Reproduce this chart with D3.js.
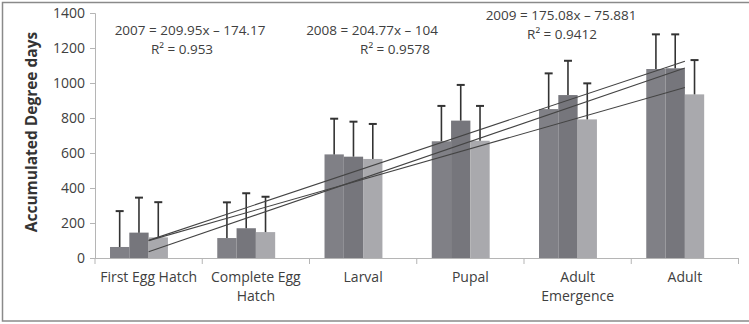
<!DOCTYPE html>
<html><head><meta charset="utf-8">
<script src="https://cdn.jsdelivr.net/npm/d3@7"></script>
<style>body{margin:0;background:#fff}text{font-family:"Open Sans",sans-serif}</style>
</head><body><svg id="c" width="749" height="324"></svg>
<script>
const categories = ["First Egg Hatch","Complete Egg Hatch","Larval","Pupal","Adult Emergence","Adult"];
const series = ["2007","2008","2009"];
const values2007 = [63,114,592,667,851,1080];
const values2008 = [145,170,579,785,931,1084];
const values2009 = [118,148,566,670,792,935];
const errors2007 = [205,204,204,202,204,198];
const errors2008 = [200,200,200,204,196,194];
const errors2009 = [201,202,200,199,206,196];
const trendSlopes = [209.95,204.77,175.08];
const trendIntercepts = [-174.17,-104,-75.881];
const trendR2 = ["0.953","0.9578","0.9412"];
const yTicks = [0,200,400,600,800,1000,1200,1400];

const values = [values2007, values2008, values2009];
const errors = [errors2007, errors2008, errors2009];
const colors = ["#808086","#76767c","#a9a9ad"];

const svg = d3.select("#c");
svg.append("rect").attr("x",2.5).attr("y",2.5).attr("width",760).attr("height",318.5)
  .attr("fill","none").attr("stroke","#8a8a8a").attr("stroke-width",1.5);

const pL=95, pR=738.5, pT=13, pB=258;
const x0 = d3.scaleBand().domain(categories).range([pL,pR]).padding(0);
const bw = x0.bandwidth();
const x1 = d3.scaleBand().domain(series).range([bw*0.14, bw*0.14 + bw*0.54]).padding(0);
const y = d3.scaleLinear().domain([0,1400]).range([pB,pT]);
const xi = d3.scaleLinear().domain([1,6]).range([x0(categories[0])+bw/2, x0(categories[5])+bw/2]);

// y axis
const ya = svg.append("g").attr("transform",`translate(${pL},0)`)
  .call(d3.axisLeft(y).tickValues(yTicks).tickFormat(d3.format("d")).tickSize(5).tickPadding(5));
ya.select(".domain").attr("stroke","#b5b5b5");
ya.selectAll(".tick line").attr("stroke","#b5b5b5");
ya.selectAll(".tick text").attr("fill","#404040").style("font-size","14px").style("font-family","'Open Sans',sans-serif");

// x axis
const xa = svg.append("g").attr("transform",`translate(0,${pB})`);
xa.append("line").attr("x1",pL).attr("x2",pR).attr("y1",0.5).attr("y2",0.5).attr("stroke","#b5b5b5");
const bounds = categories.map(c=>x0(c)).concat([pR]);
xa.selectAll("line.tk").data(bounds).join("line").attr("class","tk")
  .attr("x1",d=>d).attr("x2",d=>d).attr("y1",0).attr("y2",6).attr("stroke","#b5b5b5");
const labelLines = {"Complete Egg Hatch":["Complete Egg","Hatch"],"Adult Emergence":["Adult","Emergence"]};
categories.forEach(c=>{
  const lines = labelLines[c] || [c];
  lines.forEach((l,i)=>xa.append("text").attr("x",x0(c)+bw/2).attr("y",24+i*19).attr("text-anchor","middle")
    .attr("fill","#404040").style("font-size","14px").text(l));
});

// bars
series.forEach((s,si)=>{
  const g = svg.append("g");
  g.selectAll("rect").data(categories).join("rect")
    .attr("x",c=>x0(c)+x1(s)).attr("width",x1.bandwidth())
    .attr("y",(c,i)=>y(values[si][i])).attr("height",(c,i)=>y(0)-y(values[si][i]))
    .attr("fill",colors[si]);
});
// error bars
series.forEach((s,si)=>{
  const g = svg.append("g").attr("stroke","#333").attr("stroke-width",1.6);
  categories.forEach((c,i)=>{
    const cx = x0(c)+x1(s)+x1.bandwidth()/2;
    const v = values[si][i], e = errors[si][i];
    g.append("line").attr("x1",cx).attr("x2",cx).attr("y1",y(v)).attr("y2",y(v+e));
    g.append("line").attr("x1",cx-4).attr("x2",cx+4).attr("y1",y(v+e)).attr("y2",y(v+e)).attr("stroke-width",2);
  });
});
// trend lines
series.forEach((s,si)=>{
  const f = xv => trendSlopes[si]*xv + trendIntercepts[si];
  svg.append("line").attr("x1",xi(1)).attr("y1",y(f(1))).attr("x2",xi(6)).attr("y2",y(f(6)))
    .attr("stroke","#444").attr("stroke-width",1.1);
});
// equations
const eqPos = [[190,35,182],[372,35,395],[561,20,562]];
series.forEach((s,si)=>{
  const p = eqPos[si];
  const b = Math.abs(trendIntercepts[si]);
  svg.append("text").attr("x",p[0]).attr("y",p[1]).attr("text-anchor","middle").attr("fill","#404040")
    .style("font-size","13.5px").text(`${s} = ${trendSlopes[si]}x – ${b}`);
  svg.append("text").attr("x",p[2]).attr("y",p[1]+18.5).attr("text-anchor","middle").attr("fill","#404040")
    .style("font-size","13.5px").text(`R² = ${trendR2[si]}`);
});
// y title
svg.append("text").attr("transform","translate(37,132) rotate(-90)").attr("text-anchor","middle")
  .attr("fill","#333").style("font-size","15.5px").style("font-weight","bold").text("Accumulated Degree days");
</script></body></html>
